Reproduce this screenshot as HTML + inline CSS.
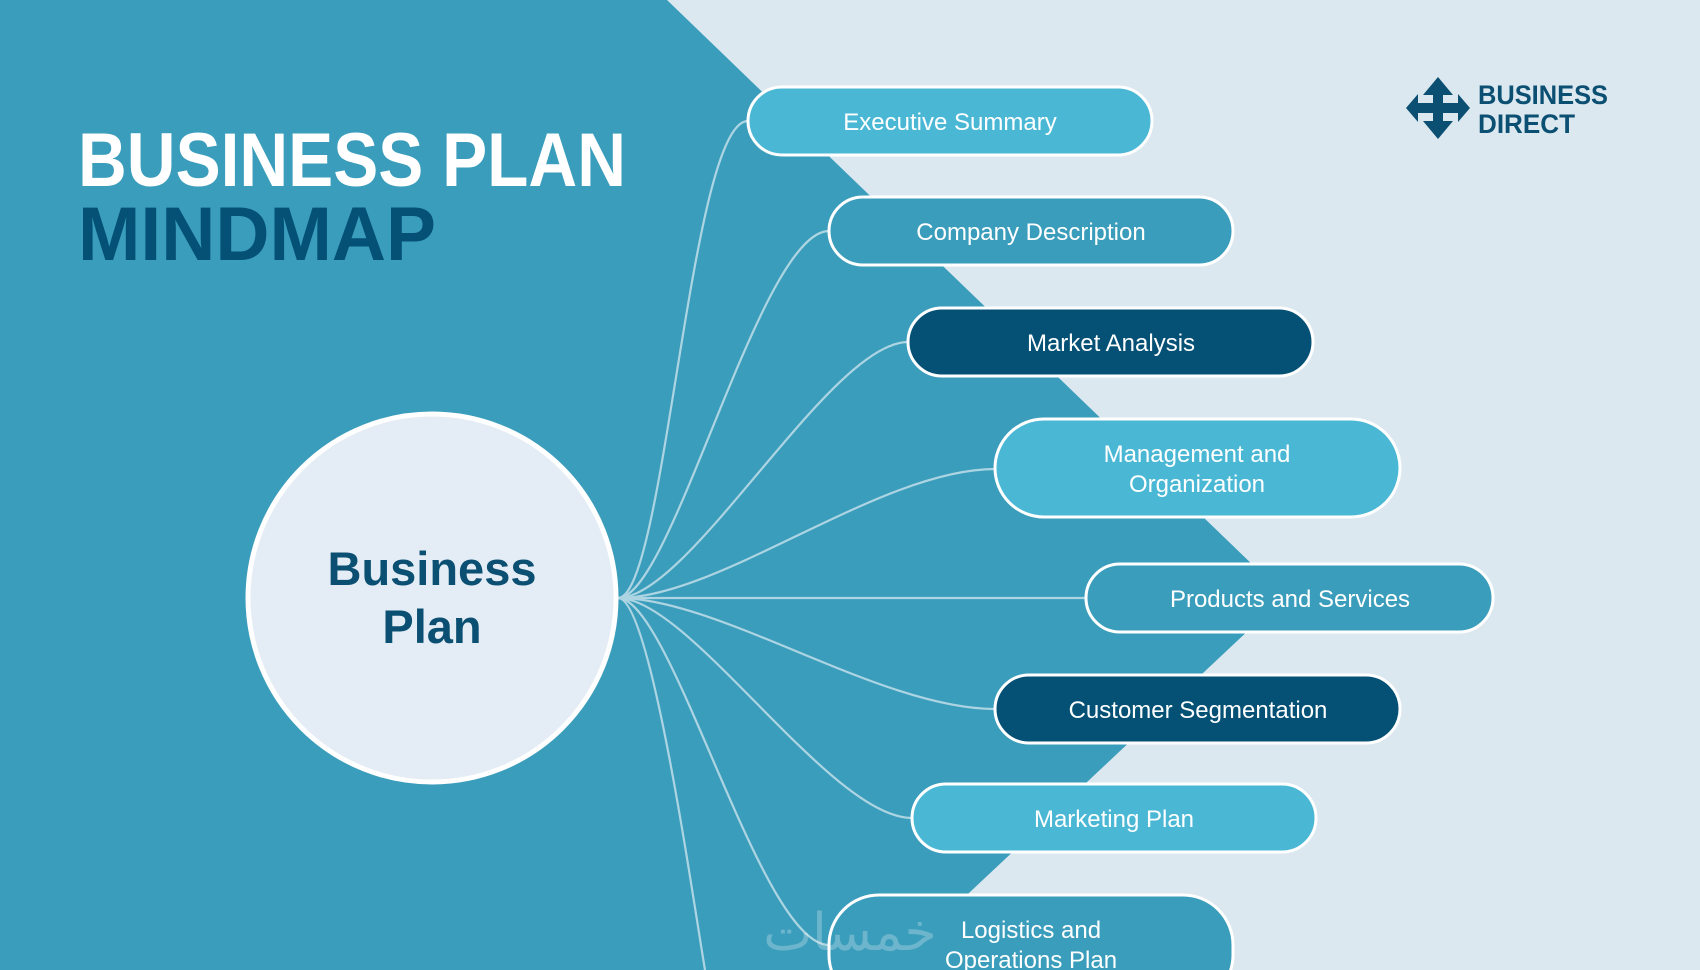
<!DOCTYPE html>
<html><head><meta charset="utf-8"><style>
html,body{margin:0;padding:0;width:1700px;height:970px;overflow:hidden;background:#3a9dbb}
svg{display:block}
text{font-family:"Liberation Sans","DejaVu Sans",sans-serif}
</style></head><body>
<svg width="1700" height="970" viewBox="0 0 1700 970">
<rect width="1700" height="970" fill="#3a9dbb"/>
<polygon points="667,0 1700,0 1700,970 887,970 1285,596" fill="#dce8f0"/>
<g fill="none" stroke="#b9dbe7" stroke-width="2.2" opacity="0.9">
<path d="M618,598 C665,598 690,121 748,121"/>
<path d="M618,598 C672,598 760,231 829,231"/>
<path d="M618,598 C690,598 830,342 908,342"/>
<path d="M618,598 C720,598 880,469 995,469"/>
<path d="M618,598 L1086,598"/>
<path d="M618,598 C720,598 880,709 995,709"/>
<path d="M618,598 C690,598 830,818 912,818"/>
<path d="M618,598 C672,598 760,945 829,945"/>
<path d="M618,598 C650,598 690,880 705,970"/>
</g>
<circle cx="432" cy="598" r="184" fill="#e4edf5" stroke="#fff" stroke-width="5"/>
<text x="432" y="585" text-anchor="middle" font-size="47" font-weight="bold" fill="#0b4f72">Business</text>
<text x="432" y="643" text-anchor="middle" font-size="47" font-weight="bold" fill="#0b4f72">Plan</text>
<text x="78" y="186" font-size="76" font-weight="bold" fill="#ffffff" textLength="548" lengthAdjust="spacingAndGlyphs">BUSINESS PLAN</text>
<text x="78" y="260" font-size="76" font-weight="bold" fill="#045175" textLength="358" lengthAdjust="spacingAndGlyphs">MINDMAP</text>
<g stroke="#fff" stroke-width="3">
<rect x="748" y="87" width="404" height="68" rx="34" fill="#4ab8d5"/>
<rect x="829" y="197" width="404" height="68" rx="34" fill="#3a9dbb"/>
<rect x="908" y="308" width="405" height="68" rx="34" fill="#045175"/>
<rect x="995" y="419" width="405" height="98" rx="49" fill="#4ab8d5"/>
<rect x="1086" y="564" width="407" height="68" rx="34" fill="#3a9dbb"/>
<rect x="995" y="675" width="405" height="68" rx="34" fill="#045175"/>
<rect x="912" y="784" width="404" height="68" rx="34" fill="#4ab8d5"/>
<rect x="829" y="895" width="404" height="110" rx="50" fill="#3a9dbb"/>
</g>
<g fill="#fff" font-size="24" text-anchor="middle">
<text x="950" y="130">Executive Summary</text>
<text x="1031" y="240">Company Description</text>
<text x="1111" y="351">Market Analysis</text>
<text x="1197" y="462">Management and</text>
<text x="1197" y="492">Organization</text>
<text x="1290" y="607">Products and Services</text>
<text x="1198" y="718">Customer Segmentation</text>
<text x="1114" y="827">Marketing Plan</text>
<text x="1031" y="938">Logistics and</text>
<text x="1031" y="968">Operations Plan</text>
</g>
<text x="850" y="950" text-anchor="middle" font-size="52" fill="#ffffff" opacity="0.25" font-family="DejaVu Sans, sans-serif">خمسات</text>
<g fill="#0b4f72">
<polygon points="1438,77 1453,95 1443,95 1443,103 1458,103 1458,94 1470,108 1458,122 1458,113 1443,113 1443,121 1453,121 1438,139 1423,121 1433,121 1433,113 1418,113 1418,122 1406,108 1418,94 1418,103 1433,103 1433,95 1423,95"/>
</g>
<text x="1478" y="104" font-size="27" font-weight="bold" fill="#0b4f72" textLength="130" lengthAdjust="spacingAndGlyphs">BUSINESS</text>
<text x="1478" y="133" font-size="27" font-weight="bold" fill="#0b4f72" textLength="97" lengthAdjust="spacingAndGlyphs">DIRECT</text>
</svg>
</body></html>
